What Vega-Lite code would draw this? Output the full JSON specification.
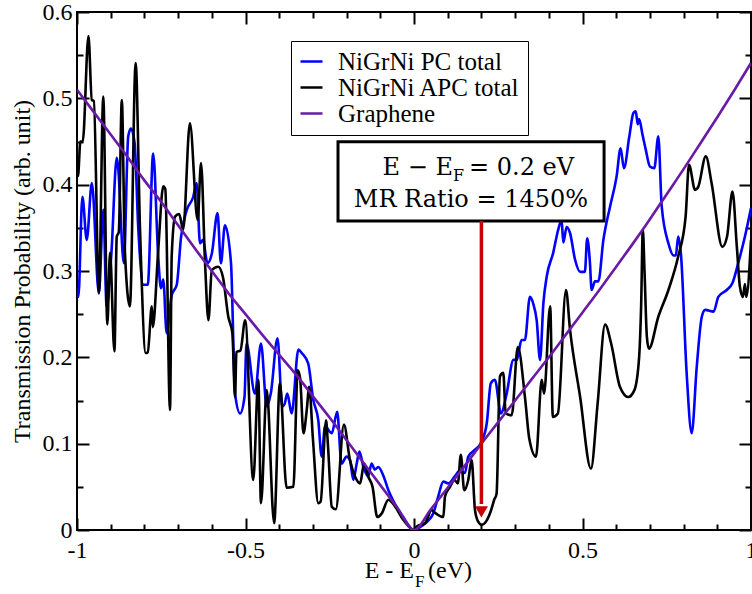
{
  "$schema": "https://vega.github.io/schema/vega-lite/v6.json",
  "width": 674,
  "height": 518,
  "autosize": {"type": "none"},
  "padding": {"left": 77, "top": 12, "right": 1, "bottom": 64},
  "background": "white",
  "config": {
    "view": {"stroke": "black", "strokeWidth": 2},
    "axis": {
      "domain": false, "grid": false, "tickColor": "black", "tickWidth": 2, "tickSize": -12,
      "labelFont": "'Liberation Serif', 'Times New Roman', serif", "labelFontSize": 24, "labelColor": "black",
      "titleFont": "'Liberation Serif', 'Times New Roman', serif", "titleFontSize": 24, "titleFontWeight": "normal", "titleColor": "black",
      "labelFlush": false, "labelOverlap": false
    }
  },
  "datasets": {
    "curves": [
      {"s":"NiGrNi PC total","x":-1.0,"y":0.28},{"s":"NiGrNi PC total","x":-0.996,"y":0.27},{"s":"NiGrNi PC total","x":-0.984,"y":0.386},{"s":"NiGrNi PC total","x":-0.971,"y":0.336},{"s":"NiGrNi PC total","x":-0.956,"y":0.402},{"s":"NiGrNi PC total","x":-0.935,"y":0.274},{"s":"NiGrNi PC total","x":-0.922,"y":0.371},{"s":"NiGrNi PC total","x":-0.912,"y":0.259},{"s":"NiGrNi PC total","x":-0.898,"y":0.32},{"s":"NiGrNi PC total","x":-0.882,"y":0.431},{"s":"NiGrNi PC total","x":-0.878,"y":0.42},{"s":"NiGrNi PC total","x":-0.861,"y":0.309},{"s":"NiGrNi PC total","x":-0.848,"y":0.456},{"s":"NiGrNi PC total","x":-0.84,"y":0.465},{"s":"NiGrNi PC total","x":-0.829,"y":0.448},{"s":"NiGrNi PC total","x":-0.818,"y":0.348},{"s":"NiGrNi PC total","x":-0.803,"y":0.284},{"s":"NiGrNi PC total","x":-0.79,"y":0.284},{"s":"NiGrNi PC total","x":-0.774,"y":0.436},{"s":"NiGrNi PC total","x":-0.759,"y":0.317},{"s":"NiGrNi PC total","x":-0.751,"y":0.28},{"s":"NiGrNi PC total","x":-0.744,"y":0.29},{"s":"NiGrNi PC total","x":-0.734,"y":0.228},{"s":"NiGrNi PC total","x":-0.719,"y":0.272},{"s":"NiGrNi PC total","x":-0.704,"y":0.284},{"s":"NiGrNi PC total","x":-0.691,"y":0.34},{"s":"NiGrNi PC total","x":-0.675,"y":0.37},{"s":"NiGrNi PC total","x":-0.655,"y":0.386},{"s":"NiGrNi PC total","x":-0.645,"y":0.402},{"s":"NiGrNi PC total","x":-0.635,"y":0.332},{"s":"NiGrNi PC total","x":-0.626,"y":0.336},{"s":"NiGrNi PC total","x":-0.613,"y":0.309},{"s":"NiGrNi PC total","x":-0.6,"y":0.32},{"s":"NiGrNi PC total","x":-0.583,"y":0.367},{"s":"NiGrNi PC total","x":-0.573,"y":0.309},{"s":"NiGrNi PC total","x":-0.561,"y":0.353},{"s":"NiGrNi PC total","x":-0.543,"y":0.309},{"s":"NiGrNi PC total","x":-0.531,"y":0.158},{"s":"NiGrNi PC total","x":-0.516,"y":0.135},{"s":"NiGrNi PC total","x":-0.503,"y":0.154},{"s":"NiGrNi PC total","x":-0.497,"y":0.216},{"s":"NiGrNi PC total","x":-0.472,"y":0.158},{"s":"NiGrNi PC total","x":-0.454,"y":0.216},{"s":"NiGrNi PC total","x":-0.437,"y":0.143},{"s":"NiGrNi PC total","x":-0.425,"y":0.158},{"s":"NiGrNi PC total","x":-0.405,"y":0.222},{"s":"NiGrNi PC total","x":-0.391,"y":0.143},{"s":"NiGrNi PC total","x":-0.384,"y":0.146},{"s":"NiGrNi PC total","x":-0.376,"y":0.158},{"s":"NiGrNi PC total","x":-0.363,"y":0.135},{"s":"NiGrNi PC total","x":-0.343,"y":0.209},{"s":"NiGrNi PC total","x":-0.333,"y":0.205},{"s":"NiGrNi PC total","x":-0.314,"y":0.193},{"s":"NiGrNi PC total","x":-0.299,"y":0.151},{"s":"NiGrNi PC total","x":-0.284,"y":0.127},{"s":"NiGrNi PC total","x":-0.274,"y":0.085},{"s":"NiGrNi PC total","x":-0.264,"y":0.12},{"s":"NiGrNi PC total","x":-0.244,"y":0.112},{"s":"NiGrNi PC total","x":-0.228,"y":0.137},{"s":"NiGrNi PC total","x":-0.215,"y":0.077},{"s":"NiGrNi PC total","x":-0.2,"y":0.085},{"s":"NiGrNi PC total","x":-0.19,"y":0.081},{"s":"NiGrNi PC total","x":-0.18,"y":0.058},{"s":"NiGrNi PC total","x":-0.17,"y":0.077},{"s":"NiGrNi PC total","x":-0.162,"y":0.091},{"s":"NiGrNi PC total","x":-0.15,"y":0.073},{"s":"NiGrNi PC total","x":-0.136,"y":0.062},{"s":"NiGrNi PC total","x":-0.126,"y":0.077},{"s":"NiGrNi PC total","x":-0.116,"y":0.07},{"s":"NiGrNi PC total","x":-0.106,"y":0.073},{"s":"NiGrNi PC total","x":-0.09,"y":0.062},{"s":"NiGrNi PC total","x":-0.076,"y":0.046},{"s":"NiGrNi PC total","x":-0.063,"y":0.035},{"s":"NiGrNi PC total","x":-0.032,"y":0.015},{"s":"NiGrNi PC total","x":0.0,"y":0.0},{"s":"NiGrNi PC total","x":0.02,"y":0.004},{"s":"NiGrNi PC total","x":0.04,"y":0.01},{"s":"NiGrNi PC total","x":0.057,"y":0.019},{"s":"NiGrNi PC total","x":0.072,"y":0.039},{"s":"NiGrNi PC total","x":0.087,"y":0.056},{"s":"NiGrNi PC total","x":0.102,"y":0.054},{"s":"NiGrNi PC total","x":0.121,"y":0.062},{"s":"NiGrNi PC total","x":0.136,"y":0.069},{"s":"NiGrNi PC total","x":0.151,"y":0.066},{"s":"NiGrNi PC total","x":0.161,"y":0.085},{"s":"NiGrNi PC total","x":0.181,"y":0.093},{"s":"NiGrNi PC total","x":0.2,"y":0.102},{"s":"NiGrNi PC total","x":0.216,"y":0.124},{"s":"NiGrNi PC total","x":0.228,"y":0.17},{"s":"NiGrNi PC total","x":0.24,"y":0.174},{"s":"NiGrNi PC total","x":0.258,"y":0.135},{"s":"NiGrNi PC total","x":0.275,"y":0.158},{"s":"NiGrNi PC total","x":0.295,"y":0.197},{"s":"NiGrNi PC total","x":0.305,"y":0.197},{"s":"NiGrNi PC total","x":0.319,"y":0.22},{"s":"NiGrNi PC total","x":0.329,"y":0.22},{"s":"NiGrNi PC total","x":0.344,"y":0.27},{"s":"NiGrNi PC total","x":0.354,"y":0.262},{"s":"NiGrNi PC total","x":0.364,"y":0.243},{"s":"NiGrNi PC total","x":0.374,"y":0.197},{"s":"NiGrNi PC total","x":0.384,"y":0.263},{"s":"NiGrNi PC total","x":0.394,"y":0.294},{"s":"NiGrNi PC total","x":0.413,"y":0.321},{"s":"NiGrNi PC total","x":0.428,"y":0.348},{"s":"NiGrNi PC total","x":0.438,"y":0.359},{"s":"NiGrNi PC total","x":0.443,"y":0.333},{"s":"NiGrNi PC total","x":0.453,"y":0.351},{"s":"NiGrNi PC total","x":0.463,"y":0.344},{"s":"NiGrNi PC total","x":0.478,"y":0.313},{"s":"NiGrNi PC total","x":0.493,"y":0.299},{"s":"NiGrNi PC total","x":0.507,"y":0.299},{"s":"NiGrNi PC total","x":0.514,"y":0.338},{"s":"NiGrNi PC total","x":0.522,"y":0.31},{"s":"NiGrNi PC total","x":0.527,"y":0.278},{"s":"NiGrNi PC total","x":0.537,"y":0.288},{"s":"NiGrNi PC total","x":0.547,"y":0.288},{"s":"NiGrNi PC total","x":0.562,"y":0.336},{"s":"NiGrNi PC total","x":0.582,"y":0.375},{"s":"NiGrNi PC total","x":0.601,"y":0.409},{"s":"NiGrNi PC total","x":0.613,"y":0.442},{"s":"NiGrNi PC total","x":0.623,"y":0.419},{"s":"NiGrNi PC total","x":0.639,"y":0.456},{"s":"NiGrNi PC total","x":0.651,"y":0.483},{"s":"NiGrNi PC total","x":0.658,"y":0.485},{"s":"NiGrNi PC total","x":0.664,"y":0.47},{"s":"NiGrNi PC total","x":0.668,"y":0.476},{"s":"NiGrNi PC total","x":0.678,"y":0.458},{"s":"NiGrNi PC total","x":0.688,"y":0.44},{"s":"NiGrNi PC total","x":0.7,"y":0.421},{"s":"NiGrNi PC total","x":0.713,"y":0.419},{"s":"NiGrNi PC total","x":0.725,"y":0.456},{"s":"NiGrNi PC total","x":0.735,"y":0.375},{"s":"NiGrNi PC total","x":0.755,"y":0.332},{"s":"NiGrNi PC total","x":0.77,"y":0.318},{"s":"NiGrNi PC total","x":0.777,"y":0.318},{"s":"NiGrNi PC total","x":0.784,"y":0.34},{"s":"NiGrNi PC total","x":0.792,"y":0.32},{"s":"NiGrNi PC total","x":0.809,"y":0.182},{"s":"NiGrNi PC total","x":0.824,"y":0.112},{"s":"NiGrNi PC total","x":0.839,"y":0.189},{"s":"NiGrNi PC total","x":0.854,"y":0.247},{"s":"NiGrNi PC total","x":0.864,"y":0.255},{"s":"NiGrNi PC total","x":0.889,"y":0.253},{"s":"NiGrNi PC total","x":0.903,"y":0.27},{"s":"NiGrNi PC total","x":0.928,"y":0.278},{"s":"NiGrNi PC total","x":0.945,"y":0.286},{"s":"NiGrNi PC total","x":0.962,"y":0.309},{"s":"NiGrNi PC total","x":0.982,"y":0.34},{"s":"NiGrNi PC total","x":1.0,"y":0.373},
      {"s":"NiGrNi APC total","x":-1.0,"y":0.41},{"s":"NiGrNi APC total","x":-0.997,"y":0.41},{"s":"NiGrNi APC total","x":-0.99,"y":0.45},{"s":"NiGrNi APC total","x":-0.983,"y":0.45},{"s":"NiGrNi APC total","x":-0.966,"y":0.572},{"s":"NiGrNi APC total","x":-0.956,"y":0.498},{"s":"NiGrNi APC total","x":-0.95,"y":0.497},{"s":"NiGrNi APC total","x":-0.935,"y":0.275},{"s":"NiGrNi APC total","x":-0.922,"y":0.502},{"s":"NiGrNi APC total","x":-0.91,"y":0.238},{"s":"NiGrNi APC total","x":-0.902,"y":0.321},{"s":"NiGrNi APC total","x":-0.889,"y":0.207},{"s":"NiGrNi APC total","x":-0.882,"y":0.34},{"s":"NiGrNi APC total","x":-0.876,"y":0.345},{"s":"NiGrNi APC total","x":-0.867,"y":0.498},{"s":"NiGrNi APC total","x":-0.858,"y":0.324},{"s":"NiGrNi APC total","x":-0.843,"y":0.259},{"s":"NiGrNi APC total","x":-0.826,"y":0.541},{"s":"NiGrNi APC total","x":-0.813,"y":0.348},{"s":"NiGrNi APC total","x":-0.796,"y":0.205},{"s":"NiGrNi APC total","x":-0.79,"y":0.206},{"s":"NiGrNi APC total","x":-0.778,"y":0.259},{"s":"NiGrNi APC total","x":-0.775,"y":0.235},{"s":"NiGrNi APC total","x":-0.759,"y":0.324},{"s":"NiGrNi APC total","x":-0.744,"y":0.398},{"s":"NiGrNi APC total","x":-0.738,"y":0.395},{"s":"NiGrNi APC total","x":-0.724,"y":0.139},{"s":"NiGrNi APC total","x":-0.719,"y":0.317},{"s":"NiGrNi APC total","x":-0.709,"y":0.363},{"s":"NiGrNi APC total","x":-0.697,"y":0.366},{"s":"NiGrNi APC total","x":-0.685,"y":0.348},{"s":"NiGrNi APC total","x":-0.665,"y":0.471},{"s":"NiGrNi APC total","x":-0.642,"y":0.359},{"s":"NiGrNi APC total","x":-0.632,"y":0.425},{"s":"NiGrNi APC total","x":-0.62,"y":0.309},{"s":"NiGrNi APC total","x":-0.61,"y":0.243},{"s":"NiGrNi APC total","x":-0.6,"y":0.301},{"s":"NiGrNi APC total","x":-0.581,"y":0.305},{"s":"NiGrNi APC total","x":-0.567,"y":0.293},{"s":"NiGrNi APC total","x":-0.551,"y":0.247},{"s":"NiGrNi APC total","x":-0.539,"y":0.228},{"s":"NiGrNi APC total","x":-0.531,"y":0.154},{"s":"NiGrNi APC total","x":-0.527,"y":0.206},{"s":"NiGrNi APC total","x":-0.515,"y":0.208},{"s":"NiGrNi APC total","x":-0.501,"y":0.243},{"s":"NiGrNi APC total","x":-0.477,"y":0.058},{"s":"NiGrNi APC total","x":-0.462,"y":0.174},{"s":"NiGrNi APC total","x":-0.454,"y":0.031},{"s":"NiGrNi APC total","x":-0.437,"y":0.162},{"s":"NiGrNi APC total","x":-0.415,"y":0.008},{"s":"NiGrNi APC total","x":-0.398,"y":0.17},{"s":"NiGrNi APC total","x":-0.378,"y":0.049},{"s":"NiGrNi APC total","x":-0.358,"y":0.05},{"s":"NiGrNi APC total","x":-0.345,"y":0.185},{"s":"NiGrNi APC total","x":-0.338,"y":0.176},{"s":"NiGrNi APC total","x":-0.328,"y":0.112},{"s":"NiGrNi APC total","x":-0.318,"y":0.14},{"s":"NiGrNi APC total","x":-0.311,"y":0.166},{"s":"NiGrNi APC total","x":-0.3,"y":0.106},{"s":"NiGrNi APC total","x":-0.284,"y":0.031},{"s":"NiGrNi APC total","x":-0.277,"y":0.033},{"s":"NiGrNi APC total","x":-0.261,"y":0.127},{"s":"NiGrNi APC total","x":-0.255,"y":0.096},{"s":"NiGrNi APC total","x":-0.244,"y":0.027},{"s":"NiGrNi APC total","x":-0.232,"y":0.024},{"s":"NiGrNi APC total","x":-0.208,"y":0.122},{"s":"NiGrNi APC total","x":-0.19,"y":0.081},{"s":"NiGrNi APC total","x":-0.175,"y":0.062},{"s":"NiGrNi APC total","x":-0.16,"y":0.054},{"s":"NiGrNi APC total","x":-0.148,"y":0.077},{"s":"NiGrNi APC total","x":-0.136,"y":0.062},{"s":"NiGrNi APC total","x":-0.123,"y":0.05},{"s":"NiGrNi APC total","x":-0.109,"y":0.015},{"s":"NiGrNi APC total","x":-0.096,"y":0.019},{"s":"NiGrNi APC total","x":-0.076,"y":0.035},{"s":"NiGrNi APC total","x":-0.063,"y":0.031},{"s":"NiGrNi APC total","x":-0.032,"y":0.012},{"s":"NiGrNi APC total","x":0.0,"y":0.0},{"s":"NiGrNi APC total","x":0.008,"y":0.004},{"s":"NiGrNi APC total","x":0.033,"y":0.008},{"s":"NiGrNi APC total","x":0.052,"y":0.023},{"s":"NiGrNi APC total","x":0.062,"y":0.02},{"s":"NiGrNi APC total","x":0.087,"y":0.015},{"s":"NiGrNi APC total","x":0.092,"y":0.039},{"s":"NiGrNi APC total","x":0.107,"y":0.05},{"s":"NiGrNi APC total","x":0.12,"y":0.058},{"s":"NiGrNi APC total","x":0.13,"y":0.054},{"s":"NiGrNi APC total","x":0.139,"y":0.087},{"s":"NiGrNi APC total","x":0.149,"y":0.046},{"s":"NiGrNi APC total","x":0.161,"y":0.058},{"s":"NiGrNi APC total","x":0.171,"y":0.081},{"s":"NiGrNi APC total","x":0.181,"y":0.023},{"s":"NiGrNi APC total","x":0.19,"y":0.01},{"s":"NiGrNi APC total","x":0.201,"y":0.006},{"s":"NiGrNi APC total","x":0.214,"y":0.01},{"s":"NiGrNi APC total","x":0.228,"y":0.022},{"s":"NiGrNi APC total","x":0.238,"y":0.035},{"s":"NiGrNi APC total","x":0.245,"y":0.042},{"s":"NiGrNi APC total","x":0.255,"y":0.178},{"s":"NiGrNi APC total","x":0.265,"y":0.182},{"s":"NiGrNi APC total","x":0.272,"y":0.135},{"s":"NiGrNi APC total","x":0.29,"y":0.133},{"s":"NiGrNi APC total","x":0.308,"y":0.212},{"s":"NiGrNi APC total","x":0.33,"y":0.151},{"s":"NiGrNi APC total","x":0.342,"y":0.106},{"s":"NiGrNi APC total","x":0.362,"y":0.085},{"s":"NiGrNi APC total","x":0.379,"y":0.174},{"s":"NiGrNi APC total","x":0.386,"y":0.158},{"s":"NiGrNi APC total","x":0.404,"y":0.259},{"s":"NiGrNi APC total","x":0.412,"y":0.131},{"s":"NiGrNi APC total","x":0.427,"y":0.135},{"s":"NiGrNi APC total","x":0.451,"y":0.278},{"s":"NiGrNi APC total","x":0.463,"y":0.232},{"s":"NiGrNi APC total","x":0.493,"y":0.154},{"s":"NiGrNi APC total","x":0.525,"y":0.071},{"s":"NiGrNi APC total","x":0.545,"y":0.147},{"s":"NiGrNi APC total","x":0.567,"y":0.238},{"s":"NiGrNi APC total","x":0.585,"y":0.216},{"s":"NiGrNi APC total","x":0.611,"y":0.166},{"s":"NiGrNi APC total","x":0.636,"y":0.154},{"s":"NiGrNi APC total","x":0.654,"y":0.162},{"s":"NiGrNi APC total","x":0.668,"y":0.2},{"s":"NiGrNi APC total","x":0.674,"y":0.26},{"s":"NiGrNi APC total","x":0.679,"y":0.348},{"s":"NiGrNi APC total","x":0.684,"y":0.3},{"s":"NiGrNi APC total","x":0.691,"y":0.224},{"s":"NiGrNi APC total","x":0.697,"y":0.21},{"s":"NiGrNi APC total","x":0.725,"y":0.247},{"s":"NiGrNi APC total","x":0.755,"y":0.278},{"s":"NiGrNi APC total","x":0.784,"y":0.317},{"s":"NiGrNi APC total","x":0.806,"y":0.363},{"s":"NiGrNi APC total","x":0.816,"y":0.423},{"s":"NiGrNi APC total","x":0.834,"y":0.394},{"s":"NiGrNi APC total","x":0.843,"y":0.397},{"s":"NiGrNi APC total","x":0.866,"y":0.433},{"s":"NiGrNi APC total","x":0.883,"y":0.402},{"s":"NiGrNi APC total","x":0.915,"y":0.328},{"s":"NiGrNi APC total","x":0.929,"y":0.34},{"s":"NiGrNi APC total","x":0.945,"y":0.392},{"s":"NiGrNi APC total","x":0.958,"y":0.328},{"s":"NiGrNi APC total","x":0.967,"y":0.282},{"s":"NiGrNi APC total","x":0.976,"y":0.27},{"s":"NiGrNi APC total","x":0.982,"y":0.285},{"s":"NiGrNi APC total","x":0.986,"y":0.27},{"s":"NiGrNi APC total","x":1.0,"y":0.336},
      {"s":"Graphene","x":-1.0,"y":0.51},{"s":"Graphene","x":-0.95,"y":0.484},{"s":"Graphene","x":-0.9,"y":0.458},{"s":"Graphene","x":-0.85,"y":0.432},{"s":"Graphene","x":-0.8,"y":0.405},{"s":"Graphene","x":-0.75,"y":0.38},{"s":"Graphene","x":-0.7,"y":0.353},{"s":"Graphene","x":-0.65,"y":0.326},{"s":"Graphene","x":-0.6,"y":0.3},{"s":"Graphene","x":-0.55,"y":0.274},{"s":"Graphene","x":-0.5,"y":0.25},{"s":"Graphene","x":-0.45,"y":0.226},{"s":"Graphene","x":-0.4,"y":0.203},{"s":"Graphene","x":-0.35,"y":0.18},{"s":"Graphene","x":-0.3,"y":0.155},{"s":"Graphene","x":-0.25,"y":0.13},{"s":"Graphene","x":-0.2,"y":0.104},{"s":"Graphene","x":-0.15,"y":0.078},{"s":"Graphene","x":-0.1,"y":0.052},{"s":"Graphene","x":-0.05,"y":0.026},{"s":"Graphene","x":0.0,"y":0.0},{"s":"Graphene","x":0.05,"y":0.024},{"s":"Graphene","x":0.1,"y":0.049},{"s":"Graphene","x":0.15,"y":0.074},{"s":"Graphene","x":0.2,"y":0.1},{"s":"Graphene","x":0.25,"y":0.125},{"s":"Graphene","x":0.3,"y":0.15},{"s":"Graphene","x":0.35,"y":0.175},{"s":"Graphene","x":0.4,"y":0.2},{"s":"Graphene","x":0.45,"y":0.226},{"s":"Graphene","x":0.5,"y":0.252},{"s":"Graphene","x":0.55,"y":0.278},{"s":"Graphene","x":0.6,"y":0.305},{"s":"Graphene","x":0.65,"y":0.332},{"s":"Graphene","x":0.7,"y":0.36},{"s":"Graphene","x":0.75,"y":0.389},{"s":"Graphene","x":0.8,"y":0.418},{"s":"Graphene","x":0.85,"y":0.448},{"s":"Graphene","x":0.9,"y":0.478},{"s":"Graphene","x":0.95,"y":0.509},{"s":"Graphene","x":1.0,"y":0.541}
    ]
  },
  "layer": [
    {
      "data": {"name": "curves"},
      "mark": {"type": "line", "strokeWidth": 2.6, "clip": true, "interpolate": "monotone"},
      "encoding": {
        "x": {
          "field": "x", "type": "quantitative",
          "scale": {"domain": [-1, 1], "nice": false, "zero": false},
          "axis": {
            "orient": "bottom", "title": null,
            "values": [-1,-0.9,-0.8,-0.7,-0.6,-0.5,-0.4,-0.3,-0.2,-0.1,0,0.1,0.2,0.3,0.4,0.5,0.6,0.7,0.8,0.9,1],
            "labelExpr": "abs(datum.value*2 - round(datum.value*2)) < 0.001 ? toString(round(datum.value*10)/10) : ''",
            "tickDash": {"condition": {"test": "abs(datum.value*2 - round(datum.value*2)) < 0.001", "value": []}, "value": [6, 20]},
            "labelPadding": 20
          }
        },
        "y": {
          "field": "y", "type": "quantitative",
          "scale": {"domain": [0, 0.6], "nice": false, "zero": false},
          "axis": {
            "orient": "left", "title": "Transmission Probability (arb. unit)",
            "values": [0,0.05,0.1,0.15,0.2,0.25,0.3,0.35,0.4,0.45,0.5,0.55,0.6],
            "labelExpr": "abs(datum.value*10 - round(datum.value*10)) < 0.001 ? toString(round(datum.value*10)/10) : ''",
            "tickDash": {"condition": {"test": "abs(datum.value*10 - round(datum.value*10)) < 0.001", "value": []}, "value": [6, 20]},
            "labelPadding": 17, "titlePadding": 8
          }
        },
        "color": {
          "field": "s", "type": "nominal",
          "scale": {"domain": ["NiGrNi PC total", "NiGrNi APC total", "Graphene"], "range": ["#0000ff", "#000000", "#6a1aa6"]},
          "legend": {
            "orient": "none", "legendX": 214, "legendY": 29, "title": null,
            "symbolType": "stroke", "symbolSize": 484, "symbolStrokeWidth": 2.5,
            "labelFont": "'Liberation Serif', 'Times New Roman', serif", "labelFontSize": 25, "labelColor": "black", "labelOffset": 14, "labelLimit": 400,
            "padding": 8, "rowPadding": 0, "strokeColor": "black", "fillColor": "white"
          }
        }
      }
    },
    {
      "data": {"values": [{}]},
      "mark": {"type": "rect", "fill": "white", "stroke": "black", "strokeWidth": 3},
      "encoding": {
        "x": {
          "datum": -0.2255, "type": "quantitative",
          "axis": {
            "orient": "top", "title": null, "labels": false,
            "values": [-1,-0.9,-0.8,-0.7,-0.6,-0.5,-0.4,-0.3,-0.2,-0.1,0,0.1,0.2,0.3,0.4,0.5,0.6,0.7,0.8,0.9,1],
            "tickDash": {"condition": {"test": "abs(datum.value*2 - round(datum.value*2)) < 0.001", "value": []}, "value": [6, 20]}
          }
        },
        "x2": {"datum": 0.564},
        "y": {
          "datum": 0.4496, "type": "quantitative",
          "axis": {
            "orient": "right", "title": null, "labels": false,
            "values": [0,0.05,0.1,0.15,0.2,0.25,0.3,0.35,0.4,0.45,0.5,0.55,0.6],
            "tickDash": {"condition": {"test": "abs(datum.value*10 - round(datum.value*10)) < 0.001", "value": []}, "value": [6, 20]}
          }
        },
        "y2": {"datum": 0.358}
      }
    },
    {
      "data": {"values": [{}]},
      "mark": {"type": "rule", "color": "#c80000", "strokeWidth": 3.5},
      "encoding": {
        "x": {"datum": 0.2, "type": "quantitative", "axis": null},
        "y": {"datum": 0.358, "type": "quantitative", "axis": null},
        "y2": {"datum": 0.03}
      }
    },
    {
      "data": {"values": [{}]},
      "mark": {"type": "point", "shape": "triangle-down", "filled": true, "size": 170, "color": "#c80000", "opacity": 1},
      "encoding": {
        "x": {"datum": 0.2, "type": "quantitative", "axis": null},
        "y": {"datum": 0.021, "type": "quantitative", "axis": null}
      }
    },
    {
      "data": {"values": [{}]},
      "mark": {"type": "text", "font": "'DejaVu Serif', serif", "fontSize": 24, "align": "right", "baseline": "alphabetic", "color": "black"},
      "encoding": {
        "x": {"datum": 0.1157, "type": "quantitative", "axis": null},
        "y": {"datum": 0.411, "type": "quantitative", "axis": null},
        "text": {"value": "E − E"}
      }
    },
    {
      "data": {"values": [{}]},
      "mark": {"type": "text", "font": "'DejaVu Serif', serif", "fontSize": 16, "align": "left", "baseline": "alphabetic", "color": "black"},
      "encoding": {
        "x": {"datum": 0.1157, "type": "quantitative", "axis": null},
        "y": {"datum": 0.404, "type": "quantitative", "axis": null},
        "text": {"value": "F"}
      }
    },
    {
      "data": {"values": [{}]},
      "mark": {"type": "text", "font": "'DejaVu Serif', serif", "fontSize": 24, "align": "left", "baseline": "alphabetic", "color": "black", "dx": 16},
      "encoding": {
        "x": {"datum": 0.1157, "type": "quantitative", "axis": null},
        "y": {"datum": 0.411, "type": "quantitative", "axis": null},
        "text": {"value": "= 0.2 eV"}
      }
    },
    {
      "data": {"values": [{}]},
      "mark": {"type": "text", "font": "'DejaVu Serif', serif", "fontSize": 24, "align": "center", "baseline": "alphabetic", "color": "black"},
      "encoding": {
        "x": {"datum": 0.169, "type": "quantitative", "axis": null},
        "y": {"datum": 0.374, "type": "quantitative", "axis": null},
        "text": {"value": "MR Ratio = 1450%"}
      }
    },
    {
      "data": {"values": [{}]},
      "mark": {"type": "text", "font": "'Liberation Serif', 'Times New Roman', serif", "fontSize": 24, "align": "right", "baseline": "alphabetic", "color": "black"},
      "encoding": {
        "x": {"datum": 0, "type": "quantitative", "axis": null},
        "y": {"datum": -0.0556, "type": "quantitative", "axis": null},
        "text": {"value": "E - E"}
      }
    },
    {
      "data": {"values": [{}]},
      "mark": {"type": "text", "font": "'Liberation Serif', 'Times New Roman', serif", "fontSize": 17, "align": "left", "baseline": "alphabetic", "color": "black", "dx": 1},
      "encoding": {
        "x": {"datum": 0, "type": "quantitative", "axis": null},
        "y": {"datum": -0.066, "type": "quantitative", "axis": null},
        "text": {"value": "F"}
      }
    },
    {
      "data": {"values": [{}]},
      "mark": {"type": "text", "font": "'Liberation Serif', 'Times New Roman', serif", "fontSize": 24, "align": "left", "baseline": "alphabetic", "color": "black", "dx": 14},
      "encoding": {
        "x": {"datum": 0, "type": "quantitative", "axis": null},
        "y": {"datum": -0.0556, "type": "quantitative", "axis": null},
        "text": {"value": "(eV)"}
      }
    }
  ],
  "resolve": {"axis": {"x": "independent", "y": "independent"}}
}
